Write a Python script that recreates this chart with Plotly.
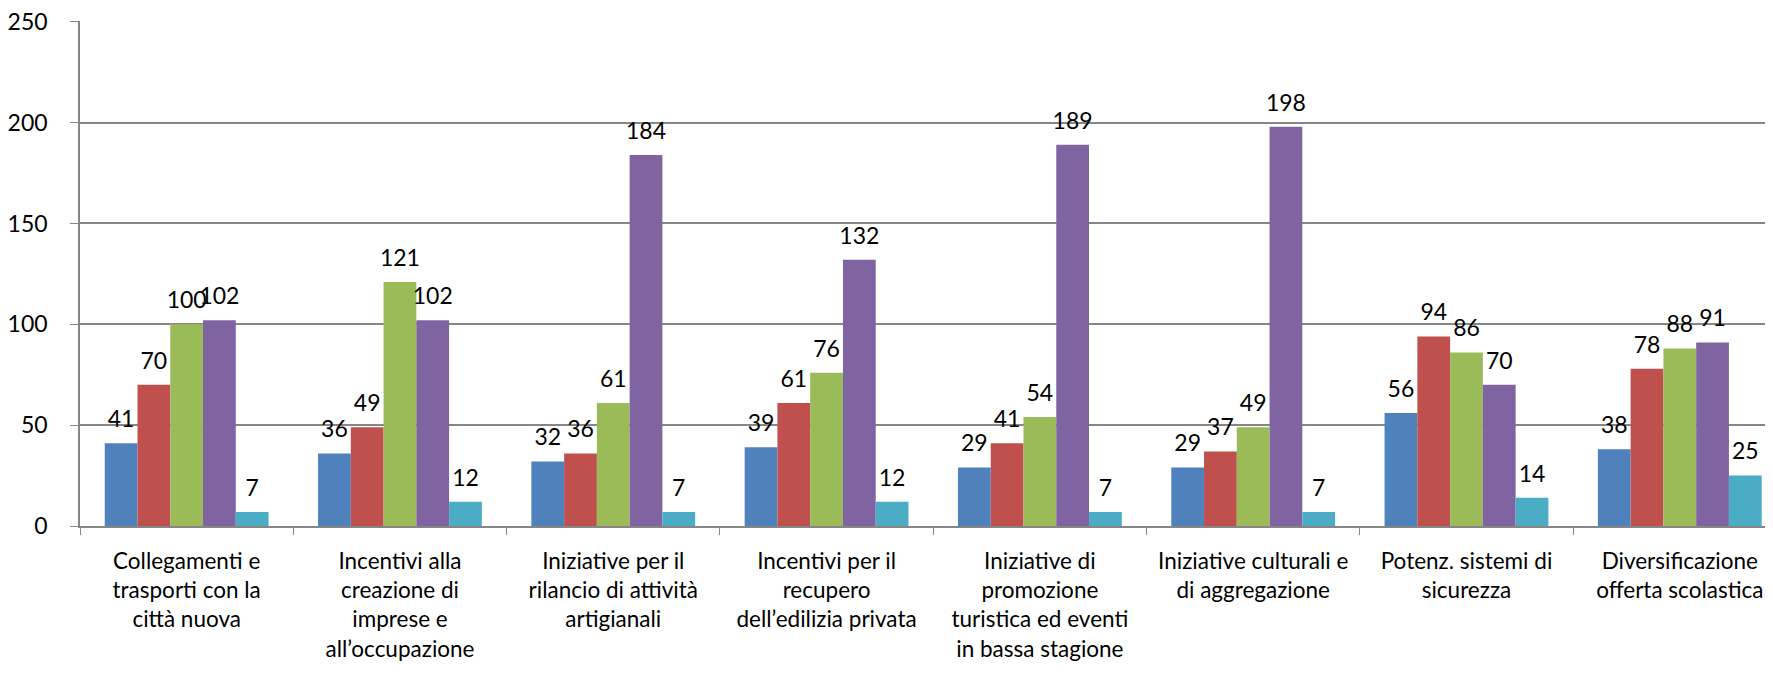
import plotly.graph_objects as go

categories = [
    "Collegamenti e<br>trasporti con la<br>città nuova",
    "Incentivi alla<br>creazione di<br>imprese e<br>all’occupazione",
    "Iniziative per il<br>rilancio di attività<br>artigianali",
    "Incentivi per il<br>recupero<br>dell’edilizia privata",
    "Iniziative di<br>promozione<br>turistica ed eventi<br>in bassa stagione",
    "Iniziative culturali e<br>di aggregazione",
    "Potenz. sistemi di<br>sicurezza",
    "Diversificazione<br>offerta scolastica",
]
s1 = [41, 36, 32, 39, 29, 29, 56, 38]
s2 = [70, 49, 36, 61, 41, 37, 94, 78]
s3 = [100, 121, 61, 76, 54, 49, 86, 88]
s4 = [102, 102, 184, 132, 189, 198, 70, 91]
s5 = [7, 12, 7, 12, 7, 7, 14, 25]
series = [s1, s2, s3, s4, s5]
colors = ["#4F81BD", "#C0504D", "#9BBB59", "#8064A2", "#4BACC6"]
ytick_vals = [0, 50, 100, 150, 200, 250]

FONT = "Lato"
FS = 23
GAP = 0.232
fig = go.Figure()
for i, (vals, c) in enumerate(zip(series, colors)):
    fig.add_trace(go.Bar(
        x=categories, y=vals, marker=dict(color=c, line=dict(width=0)),
        offsetgroup=str(i), showlegend=False, hoverinfo="skip",
    ))
for i, vals in enumerate(series):
    fig.add_trace(go.Scatter(
        x=categories, y=vals, mode="markers+text",
        marker=dict(size=15, opacity=0),
        text=[str(v) for v in vals], textposition="top center",
        textfont=dict(family=FONT, size=FS, color="black"),
        offsetgroup=str(i), cliponaxis=False, showlegend=False,
    ))

# page body has an 8px default margin: figure sized so it ends at the window edge
fig.update_layout(
    width=1765, height=672,
    margin=dict(l=72, r=0, t=13, b=154, autoexpand=False),
    paper_bgcolor="white", plot_bgcolor="white",
    barmode="group", bargap=GAP, bargroupgap=0,
    scattermode="group", scattergap=GAP,
    font=dict(family=FONT, size=FS, color="black"),
    showlegend=False,
)
fig.update_xaxes(
    range=[-0.5, 7.437], showline=True, linecolor="#868686", linewidth=1.5,
    ticks="outside", tickson="boundaries", ticklen=7, tickcolor="#868686",
    tickfont=dict(family=FONT, size=22.5), tickangle=0, automargin=False,
    ticklabelstandoff=14,
)
fig.update_yaxes(
    range=[0, 250.4], tickvals=ytick_vals, showline=True, linecolor="#868686",
    linewidth=1.5, ticks="outside", ticklen=8, tickcolor="#868686",
    showgrid=True, gridcolor="#868686", gridwidth=1.5, zeroline=False,
    tickfont=dict(family=FONT, size=FS), automargin=False,
    ticklabelstandoff=18, ticklabeloverflow="allow",
)
fig.write_html("out.html", config={"displayModeBar": False})
